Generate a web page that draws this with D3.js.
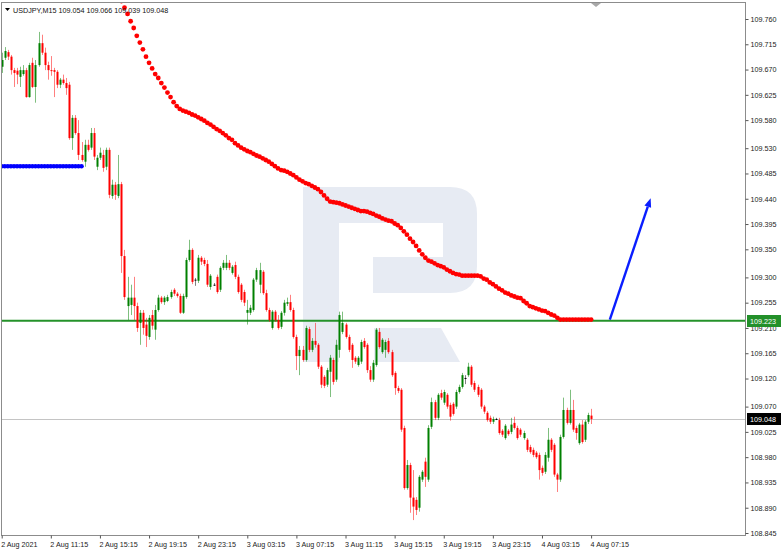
<!DOCTYPE html>
<html><head><meta charset="utf-8">
<script src="https://cdn.jsdelivr.net/npm/d3@7"></script>
<style>body{margin:0;background:#fff;} svg{display:block;font-family:"Liberation Sans",Arial,sans-serif;}</style>
</head><body><svg id="c" width="782" height="552"></svg>
<script>
const symbol = "USDJPY,M15";
const headerOHLC = ["109.054", "109.066", "109.039", "109.048"];
const opens = [109.675,109.691,109.701,109.693,109.669,109.668,109.657,109.662,109.669,109.621,109.682,109.639,109.678,109.717,109.700,109.678,109.669,109.669,109.666,109.643,109.652,109.646,109.643,109.548,109.584,109.557,109.518,109.506,109.536,109.531,109.557,109.497,109.513,109.518,109.497,109.527,109.445,109.465,109.445,109.466,109.338,109.249,109.251,109.264,109.249,109.219,109.237,109.216,109.194,109.233,109.207,109.242,109.264,109.256,109.258,109.265,109.278,109.271,109.267,109.237,109.265,109.331,109.349,109.296,109.294,109.335,109.331,109.324,109.283,109.287,109.301,109.278,109.317,109.317,109.326,109.308,109.322,109.301,109.287,109.274,109.237,109.237,109.242,109.296,109.287,109.310,109.272,109.242,109.210,109.239,109.224,109.212,109.237,109.253,109.256,109.242,109.194,109.160,109.171,109.153,109.208,109.171,109.187,109.180,109.141,109.123,109.109,109.132,109.153,109.118,109.171,109.203,109.216,109.194,109.180,109.157,109.144,109.150,109.187,109.180,109.135,109.118,109.144,109.203,109.167,109.171,109.187,109.167,109.130,109.103,109.100,109.032,108.925,108.966,108.908,108.904,108.890,108.940,108.972,108.940,109.034,109.078,109.050,109.094,109.077,109.091,109.073,109.075,109.070,109.096,109.105,109.121,109.126,109.141,109.112,109.105,109.100,109.070,109.059,109.050,109.043,109.048,109.046,109.027,109.014,109.027,109.025,109.041,109.032,109.029,109.014,109.011,108.998,108.993,108.988,108.984,108.961,108.954,108.979,109.011,109.002,108.949,108.940,109.016,109.064,109.041,109.064,109.032,109.005,109.038,109.011,109.043,109.054];
const highs = [109.700,109.710,109.705,109.696,109.673,109.673,109.675,109.678,109.673,109.682,109.691,109.687,109.737,109.732,109.709,109.684,109.694,109.673,109.669,109.655,109.661,109.655,109.648,109.589,109.589,109.580,109.541,109.545,109.545,109.566,109.566,109.518,109.531,109.527,109.531,109.531,109.474,109.470,109.518,109.470,109.349,109.301,109.287,109.301,109.255,109.242,109.242,109.228,109.233,109.242,109.251,109.269,109.267,109.267,109.269,109.278,109.281,109.274,109.271,109.271,109.335,109.367,109.352,109.299,109.340,109.338,109.335,109.331,109.306,109.290,109.305,109.320,109.331,109.340,109.331,109.322,109.328,109.305,109.290,109.278,109.260,109.251,109.299,109.317,109.326,109.313,109.278,109.246,109.242,109.242,109.233,109.240,109.260,109.264,109.269,109.246,109.198,109.178,109.178,109.214,109.212,109.192,109.219,109.183,109.144,109.126,109.139,109.162,109.157,109.189,109.239,109.239,109.219,109.198,109.183,109.160,109.160,109.189,109.192,109.183,109.142,109.153,109.210,109.210,109.192,109.189,109.192,109.171,109.133,109.107,109.103,109.036,108.975,108.970,108.957,108.909,108.948,108.957,108.979,109.037,109.086,109.082,109.094,109.100,109.100,109.094,109.077,109.078,109.100,109.109,109.130,109.126,109.148,109.144,109.116,109.109,109.103,109.073,109.062,109.054,109.052,109.050,109.050,109.030,109.039,109.030,109.050,109.052,109.036,109.032,109.027,109.014,109.002,108.997,108.991,108.988,108.965,108.989,109.032,109.014,109.005,108.952,109.020,109.086,109.068,109.100,109.082,109.036,109.041,109.046,109.046,109.059,109.066];
const lows = [109.664,109.687,109.687,109.661,109.639,109.644,109.639,109.659,109.620,109.620,109.637,109.611,109.675,109.696,109.669,109.652,109.659,109.621,109.637,109.637,109.643,109.625,109.545,109.527,109.554,109.509,109.506,109.497,109.524,109.527,109.509,109.491,109.509,109.488,109.491,109.441,109.440,109.438,109.441,109.308,109.260,109.224,109.233,109.224,109.203,109.180,109.198,109.176,109.189,109.207,109.189,109.239,109.253,109.251,109.256,109.262,109.267,109.264,109.235,109.235,109.262,109.328,109.288,109.285,109.290,109.322,109.320,109.283,109.278,109.285,109.271,109.274,109.313,109.313,109.313,109.305,109.297,109.271,109.256,109.249,109.216,109.233,109.239,109.292,109.272,109.269,109.239,109.221,109.207,109.221,109.207,109.208,109.232,109.249,109.239,109.191,109.135,109.126,109.150,109.150,109.167,109.167,109.175,109.137,109.103,109.103,109.105,109.087,109.109,109.114,109.157,109.199,109.191,109.167,109.139,109.146,109.141,109.146,109.173,109.130,109.114,109.114,109.141,109.173,109.164,109.157,109.164,109.123,109.091,109.094,109.025,108.922,108.922,108.881,108.868,108.877,108.883,108.936,108.927,108.936,109.030,109.046,109.046,109.082,109.073,109.066,109.045,109.054,109.066,109.093,109.102,109.110,109.123,109.105,109.096,109.087,109.066,109.057,109.043,109.039,109.039,109.046,109.020,109.016,109.011,109.018,109.021,109.029,109.011,109.016,109.011,108.989,108.986,108.980,108.977,108.940,108.947,108.950,108.972,108.989,108.945,108.918,108.936,109.013,109.038,109.038,109.025,109.011,109.002,109.004,109.007,109.039,109.039];
const closes = [109.687,109.703,109.693,109.669,109.664,109.661,109.669,109.669,109.621,109.678,109.639,109.678,109.717,109.700,109.678,109.669,109.668,109.666,109.643,109.652,109.646,109.637,109.548,109.584,109.557,109.518,109.509,109.536,109.527,109.557,109.515,109.513,109.522,109.495,109.527,109.447,109.465,109.447,109.466,109.338,109.265,109.264,109.264,109.249,109.210,109.237,109.210,109.196,109.228,109.214,109.242,109.264,109.256,109.264,109.265,109.274,109.271,109.267,109.237,109.267,109.331,109.349,109.292,109.296,109.335,109.328,109.324,109.287,109.303,109.287,109.274,109.317,109.326,109.326,109.317,109.319,109.301,109.274,109.260,109.255,109.242,109.246,109.296,109.313,109.313,109.272,109.242,109.224,109.239,109.224,109.210,109.237,109.255,109.256,109.242,109.194,109.160,109.171,109.153,109.210,109.171,109.187,109.180,109.141,109.109,109.107,109.135,109.157,109.114,109.180,109.233,109.219,109.194,109.171,109.153,109.150,109.157,109.185,109.176,109.135,109.118,109.148,109.207,109.176,109.189,109.185,109.167,109.126,109.103,109.098,109.029,108.925,108.966,108.908,108.892,108.886,108.945,108.954,108.945,109.032,109.078,109.050,109.091,109.086,109.096,109.070,109.052,109.057,109.096,109.105,109.126,109.121,109.141,109.109,109.100,109.091,109.070,109.061,109.046,109.043,109.048,109.048,109.023,109.020,109.036,109.021,109.038,109.032,109.014,109.020,109.023,108.993,108.989,108.984,108.980,108.957,108.952,108.984,109.011,108.993,108.949,108.940,109.016,109.064,109.041,109.064,109.029,109.023,109.038,109.007,109.043,109.055,109.048];
// red dotted indicator, starting at bar 37
const maStart = 37;
const maValues = [109.817,109.805,109.792,109.780,109.769,109.756,109.744,109.730,109.718,109.706,109.693,109.682,109.672,109.662,109.655,109.646,109.638,109.629,109.621,109.612,109.605,109.600,109.597,109.595,109.593,109.590,109.588,109.585,109.582,109.579,109.575,109.572,109.568,109.564,109.561,109.557,109.553,109.548,109.545,109.539,109.535,109.531,109.528,109.525,109.523,109.520,109.517,109.515,109.512,109.509,109.506,109.502,109.498,109.494,109.491,109.490,109.488,109.485,109.482,109.478,109.474,109.471,109.468,109.466,109.463,109.460,109.457,109.452,109.446,109.440,109.435,109.434,109.433,109.432,109.430,109.428,109.426,109.424,109.422,109.420,109.418,109.418,109.417,109.415,109.413,109.410,109.408,109.405,109.403,109.401,109.400,109.396,109.393,109.388,109.382,109.376,109.369,109.363,109.356,109.348,109.341,109.335,109.330,109.328,109.325,109.322,109.320,109.318,109.314,109.311,109.308,109.306,109.305,109.303,109.303,109.303,109.303,109.303,109.303,109.302,109.298,109.296,109.291,109.288,109.284,109.280,109.277,109.273,109.271,109.268,109.266,109.264,109.263,109.258,109.254,109.249,109.247,109.245,109.243,109.241,109.240,109.237,109.234,109.232,109.228,109.225,109.225,109.225,109.225,109.225,109.225,109.225,109.225,109.225,109.225,109.225];
// blue dotted level, bars 0..26
const blueValues = [109.498,109.498,109.498,109.498,109.498,109.498,109.498,109.498,109.498,109.498,109.498,109.498,109.498,109.498,109.498,109.498,109.498,109.498,109.498,109.498,109.498,109.498,109.498,109.498,109.498,109.498,109.498];
const supportLevel = 109.223;
const lastPrice = 109.048;
const yTickLabels = ["109.760","109.715","109.670","109.625","109.580","109.530","109.485","109.440","109.395","109.350","109.300","109.255","109.210","109.165","109.120","109.070","109.025","108.980","108.935","108.890","108.845"];
const xTickLabels = ["2 Aug 2021","2 Aug 11:15","2 Aug 15:15","2 Aug 19:15","2 Aug 23:15","3 Aug 03:15","3 Aug 07:15","3 Aug 11:15","3 Aug 15:15","3 Aug 19:15","3 Aug 23:15","4 Aug 03:15","4 Aug 07:15"];
const xTickBars = [0,16,32,48,64,80,96,112,128,144,160,176,192];
const arrowFrom = [198.1, 109.225];
const arrowTo = [211.4, 109.441];

const svg = d3.select("#c");
const W = 782, H = 552;
const frame = {l: 1, t: 2, r: 746, b: 536};
const fs = 7.2;

const x = d3.scaleLinear().domain([0, 192]).range([1.7, 591.1]);
const y = d3.scaleLinear().domain([108.845, 109.760]).range([533, 19]);

svg.append("defs").append("clipPath").attr("id", "clip")
  .append("rect").attr("x", frame.l).attr("y", frame.t)
  .attr("width", frame.r - frame.l).attr("height", frame.b - frame.t);

const plot = svg.append("g").attr("clip-path", "url(#clip)");

// watermark logo
plot.append("path")
  .attr("d", "M303,187 H450 Q477,187 477,214 V266 Q477,293 450,293 H373 V257 H443 V223 H339 V362 H303 Z M374,328 H441 L460,362 H374 Z")
  .attr("fill", "#e7ebf3");

// last price line
plot.append("line").attr("x1", frame.l).attr("x2", frame.r)
  .attr("y1", Math.round(y(lastPrice)) + 0.5).attr("y2", Math.round(y(lastPrice)) + 0.5)
  .attr("stroke", "#c4c4c4").attr("stroke-width", 1);

// support line
plot.append("line").attr("x1", frame.l).attr("x2", frame.r)
  .attr("y1", y(supportLevel)).attr("y2", y(supportLevel))
  .attr("stroke", "#24922a").attr("stroke-width", 2);

// blue level dots
plot.append("g").selectAll("circle").data(blueValues).join("circle")
  .attr("cx", (d, i) => x(i)).attr("cy", d => y(d)).attr("r", 2.3)
  .attr("fill", "#0000ff");

// candles
const bars = opens.map((o, i) => ({i, o, h: highs[i], l: lows[i], c: closes[i]}));
const col = d => d.c > d.o ? "#008000" : (d.c < d.o ? "#ff0000" : "#000000");
const cg = plot.append("g");
cg.selectAll("line").data(bars).join("line")
  .attr("x1", d => Math.round(x(d.i)) + 0.5).attr("x2", d => Math.round(x(d.i)) + 0.5)
  .attr("y1", d => y(d.h)).attr("y2", d => y(d.l))
  .attr("stroke", d => col(d)).attr("stroke-opacity", 0.5).attr("stroke-width", 1);
cg.selectAll("rect").data(bars).join("rect")
  .attr("x", d => Math.round(x(d.i)) - 0.5).attr("width", 2)
  .attr("y", d => y(Math.max(d.o, d.c)))
  .attr("height", d => Math.max(1, Math.abs(y(d.o) - y(d.c))))
  .attr("fill", d => col(d));

// red indicator dots
plot.append("g").selectAll("circle").data(maValues).join("circle")
  .attr("cx", (d, i) => x(i + maStart)).attr("cy", d => y(d)).attr("r", 2.4)
  .attr("fill", "#ff0000");

// arrow
const ax1 = x(arrowFrom[0]), ay1 = y(arrowFrom[1]), ax2 = x(arrowTo[0]), ay2 = y(arrowTo[1]);
const ang = Math.atan2(ay2 - ay1, ax2 - ax1);
const hl = 9, hw = 3.5;
const bx = ax2 - hl * Math.cos(ang), by = ay2 - hl * Math.sin(ang);
plot.append("line").attr("x1", ax1).attr("y1", ay1).attr("x2", bx).attr("y2", by)
  .attr("stroke", "#0a1eff").attr("stroke-width", 2.4);
plot.append("path")
  .attr("d", `M${ax2},${ay2} L${bx - hw * Math.sin(ang)},${by + hw * Math.cos(ang)} L${bx + hw * Math.sin(ang)},${by - hw * Math.cos(ang)} Z`)
  .attr("fill", "#0a1eff");

// frame
svg.append("rect").attr("x", frame.l + 0.5).attr("y", frame.t + 0.5)
  .attr("width", frame.r - frame.l - 1).attr("height", frame.b - frame.t - 1)
  .attr("fill", "none").attr("stroke", "#8c8c8c").attr("stroke-width", 1);

// y axis
const yAxis = d3.axisRight(y).tickValues(yTickLabels.map(Number))
  .tickFormat((d, i) => yTickLabels[i]).tickSize(3).tickPadding(2);
const yg = svg.append("g").attr("transform", `translate(${frame.r - 0.5},0)`).call(yAxis);
yg.select(".domain").remove();
yg.selectAll("line").attr("stroke", "#555");
yg.selectAll("text").attr("font-size", fs).attr("fill", "#222").attr("font-family", "Liberation Sans, Arial, sans-serif");

// x axis
const xAxis = d3.axisBottom(x).tickValues(xTickBars)
  .tickFormat((d, i) => xTickLabels[i]).tickSize(3).tickPadding(3);
const xg = svg.append("g").attr("transform", `translate(0,${frame.b - 0.5})`).call(xAxis);
xg.select(".domain").remove();
xg.selectAll("line").attr("stroke", "#555");
xg.selectAll("text").attr("font-size", fs).attr("fill", "#222").attr("text-anchor", "start")
  .attr("dx", -1).attr("font-family", "Liberation Sans, Arial, sans-serif");

// price labels on the axis
function priceTag(v, bg, fg) {
  const yy = Math.round(y(v));
  svg.append("rect").attr("x", frame.r + 1).attr("y", yy - 6).attr("width", 34).attr("height", 12).attr("fill", bg);
  svg.append("text").attr("x", frame.r + 4).attr("y", yy + 2.6).attr("font-size", fs)
    .attr("fill", fg).text(v.toFixed(3));
}
priceTag(supportLevel, "#23902a", "#ffffff");
priceTag(lastPrice, "#000000", "#ffffff");

// header
svg.append("path").attr("d", "M5,8 L10,8 L7.5,11 Z").attr("fill", "#000");
svg.append("text").attr("x", 13).attr("y", 12.5).attr("font-size", fs).attr("fill", "#111")
  .text(`${symbol}  ${headerOHLC.join(" ")}`);

// chart shift marker
svg.append("path").attr("d", "M591,3 L601,3 L596,7 Z").attr("fill", "#a8a8a8");
</script>
</body></html>
